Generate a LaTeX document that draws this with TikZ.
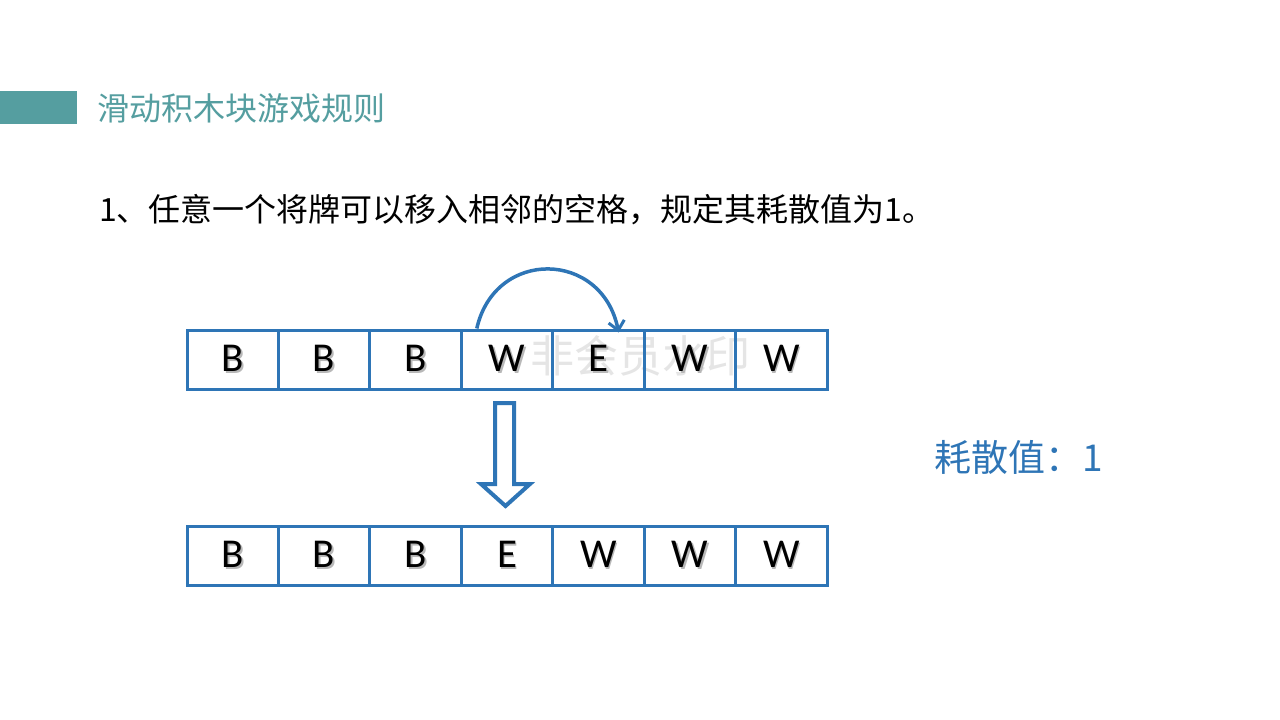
\documentclass[tikz,border=0pt]{standalone}
\usepackage{fontspec}
\usetikzlibrary{arrows.meta,positioning}
\newfontfamily\cjk{Noto Sans CJK SC}
\newfontfamily\tilefont{Carlito}
\definecolor{teal}{HTML}{559EA0}
\definecolor{tileblue}{HTML}{2E75B6}
% letter with a soft offset shadow
\newcommand\shadowed[1]{\makebox[0pt][l]{\hspace{1.6pt}\raisebox{-1.6pt}{\color{black!28}#1}}#1}
\tikzset{
  tile/.style={draw=tileblue, line width=3pt, minimum width=91.43pt, minimum height=59pt,
    inner sep=0pt, font=\tilefont\fontsize{41}{41}\selectfont, text=black},
  moveline/.style={draw=tileblue, line width=3.5pt, -{Straight Barb[length=9pt,width=16pt,line width=3pt]}},
  bigarrow/.style={draw=tileblue, line width=4pt, fill=white, line join=miter},
}
\begin{document}
\begin{tikzpicture}[x=1pt,y=-1pt]
\useasboundingbox (0,0) rectangle (1280,720);
\fill[white] (0,0) rectangle (1280,720);

% title bar
\fill[teal] (0,91) rectangle (77,124);
\node[anchor=west, inner sep=0pt, text=teal, font=\cjk\fontsize{32}{32}\selectfont] (title) at (97,108) {滑动积木块游戏规则};

% rule text
\node[anchor=west, inner sep=0pt, text=black, font=\cjk\fontsize{32}{32}\selectfont] (rule) at (99,210) {1、任意一个将牌可以移入相邻的空格，规定其耗散值为1。};

% watermark, behind the tiles
\node[inner sep=0pt, text=black!10, font=\cjk\fontsize{44}{44}\selectfont] (mark) at (640,356) {非会员水印};

% top row
\foreach \l [count=\i] in {B,B,B,W,E,W,W}
  \node[tile] (t\i) at ({187+91.43*(\i-0.5)},359.5) {\shadowed{\l}};

% bottom row
\foreach \l [count=\i] in {B,B,B,E,W,W,W}
  \node[tile] (b\i) at ({187+91.43*(\i-0.5)},555.5) {\shadowed{\l}};

% move of tile W into the empty cell
\coordinate (from) at ([xshift=17pt]t4.north west);
\coordinate (to) at ([xshift=-27pt,yshift=-4pt]t5.north east);
\draw[moveline] (from) .. controls (495,248) and (602,250) .. (to);

% hollow down arrow between the rows
\draw[bigarrow] (495,403) -- (514,403) -- (514,484) -- (530,484) -- (505.5,506) -- (481,484) -- (495,484) -- cycle;

% cost
\node[anchor=west, inner sep=0pt, text=tileblue, font=\cjk\fontsize{37}{37}\selectfont] (cost) at (934,457) {耗散值：1};
\end{tikzpicture}
\end{document}
